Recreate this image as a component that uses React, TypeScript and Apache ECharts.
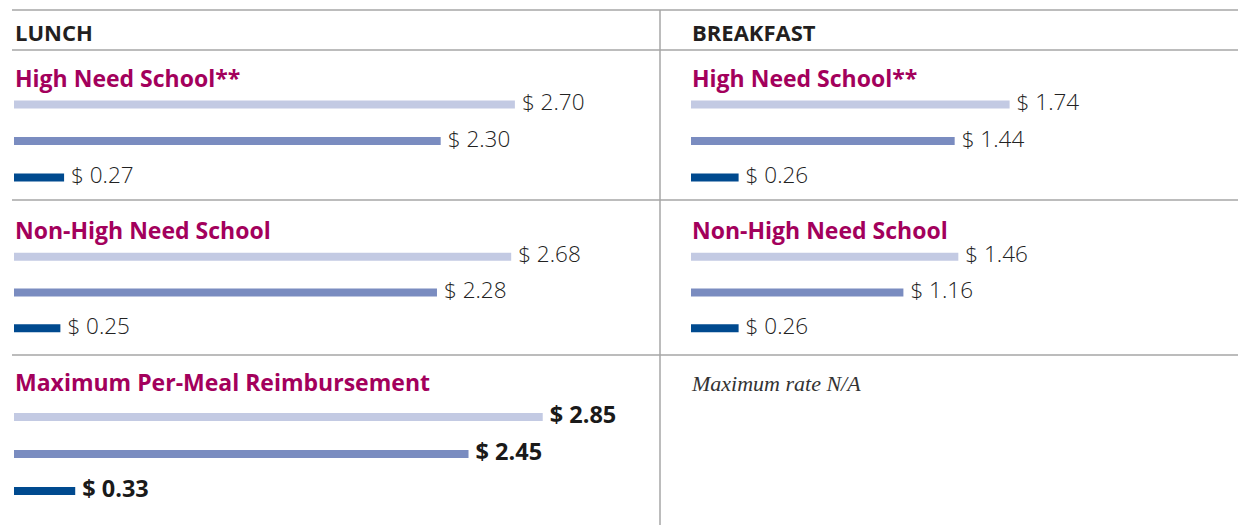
import React, { useEffect, useRef } from "react";
import * as echarts from "echarts";

const mealTypes = ["LUNCH", "BREAKFAST"];
const sectionTitles = ["High Need School**", "Non-High Need School", "Maximum Per-Meal Reimbursement"];
const rateCategories = ["Free", "Reduced-Price", "Paid"];
const lunchHighNeed = [2.7, 2.3, 0.27];
const lunchNonHighNeed = [2.68, 2.28, 0.25];
const lunchMaximum = [2.85, 2.45, 0.33];
const breakfastHighNeed = [1.74, 1.44, 0.26];
const breakfastNonHighNeed = [1.46, 1.16, 0.26];
const breakfastMaximumNote = "Maximum rate N/A";

const barColors = ["#c3cae3", "#7a8cc0", "#004a8f"];
const FONT = "'Open Sans', 'Noto Sans', sans-serif";

export default function App() {
  const ref = useRef<HTMLDivElement>(null);
  useEffect(() => {
    if (!ref.current) return;
    const chart = echarts.init(ref.current, undefined, { renderer: "svg" });

    const cols = [
      { left: 14, width: 538, textX: 15 },
      { left: 691, width: 531, textX: 692 },
    ];
    const rows = [
      { top: 86.25, height: 109.5, titleY: 78 },
      { top: 239, height: 107, titleY: 230 },
      { top: 398.5, height: 111, titleY: 382 },
    ];
    const panels = [
      { col: 0, row: 0, data: lunchHighNeed, bold: false },
      { col: 0, row: 1, data: lunchNonHighNeed, bold: false },
      { col: 0, row: 2, data: lunchMaximum, bold: true },
      { col: 1, row: 0, data: breakfastHighNeed, bold: false },
      { col: 1, row: 1, data: breakfastNonHighNeed, bold: false },
    ];

    const grid = panels.map((p) => ({
      left: cols[p.col].left,
      width: cols[p.col].width,
      top: rows[p.row].top,
      height: rows[p.row].height,
    }));
    const xAxis = panels.map((_, i) => ({
      type: "value",
      gridIndex: i,
      min: 0,
      max: 2.9,
      show: false,
    }));
    const yAxis = panels.map((_, i) => ({
      type: "category",
      gridIndex: i,
      data: rateCategories,
      inverse: true,
      show: false,
    }));
    const series = panels.map((p, i) => ({
      type: "bar",
      xAxisIndex: i,
      yAxisIndex: i,
      barWidth: 8,
      data: p.data.map((v, j) => ({ value: v, itemStyle: { color: barColors[j] } })),
      label: {
        show: true,
        position: "right",
        distance: 7,
        offset: [0, -3],
        formatter: (d: any) => "$ " + Number(d.value).toFixed(2),
        fontFamily: FONT,
        fontSize: p.bold ? 23.5 : 22.5,
        fontWeight: p.bold ? "bold" : 300,
        color: p.bold ? "#1a1a1a" : "#222222",
      },
    }));

    const lineStyle = { stroke: "#a6a6a6", lineWidth: 1.5 };
    const graphic: any[] = [
      { type: "line", shape: { x1: 12, y1: 10, x2: 1238, y2: 10 }, style: lineStyle },
      { type: "line", shape: { x1: 12, y1: 50, x2: 1238, y2: 50 }, style: lineStyle },
      { type: "line", shape: { x1: 12, y1: 200, x2: 1238, y2: 200 }, style: lineStyle },
      { type: "line", shape: { x1: 12, y1: 355, x2: 1238, y2: 355 }, style: lineStyle },
      { type: "line", shape: { x1: 660, y1: 10, x2: 660, y2: 525 }, style: lineStyle },
    ];
    mealTypes.forEach((m, c) => {
      graphic.push({
        type: "text",
        x: cols[c].textX,
        y: 32,
        style: { text: m, font: `bold 22px ${FONT}`, fill: "#231f20", verticalAlign: "middle", align: "left" },
      });
    });
    panels.forEach((p) => {
      graphic.push({
        type: "text",
        x: cols[p.col].textX,
        y: rows[p.row].titleY,
        style: {
          text: sectionTitles[p.row],
          font: `bold 23px ${FONT}`,
          fill: "#a3005c",
          verticalAlign: "middle",
          align: "left",
        },
      });
    });
    graphic.push({
      type: "text",
      x: cols[1].textX,
      y: 383,
      style: {
        text: breakfastMaximumNote,
        font: `italic 22px 'Liberation Serif', 'DejaVu Serif', serif`,
        fill: "#333333",
        verticalAlign: "middle",
        align: "left",
      },
    });

    chart.setOption({
      animation: false,
      grid,
      xAxis,
      yAxis,
      series,
      graphic,
    });
    return () => chart.dispose();
  }, []);
  return (
    <div
      ref={ref}
      style={{ position: "absolute", left: 0, top: 0, width: 1238, height: 525, background: "#ffffff" }}
    />
  );
}
